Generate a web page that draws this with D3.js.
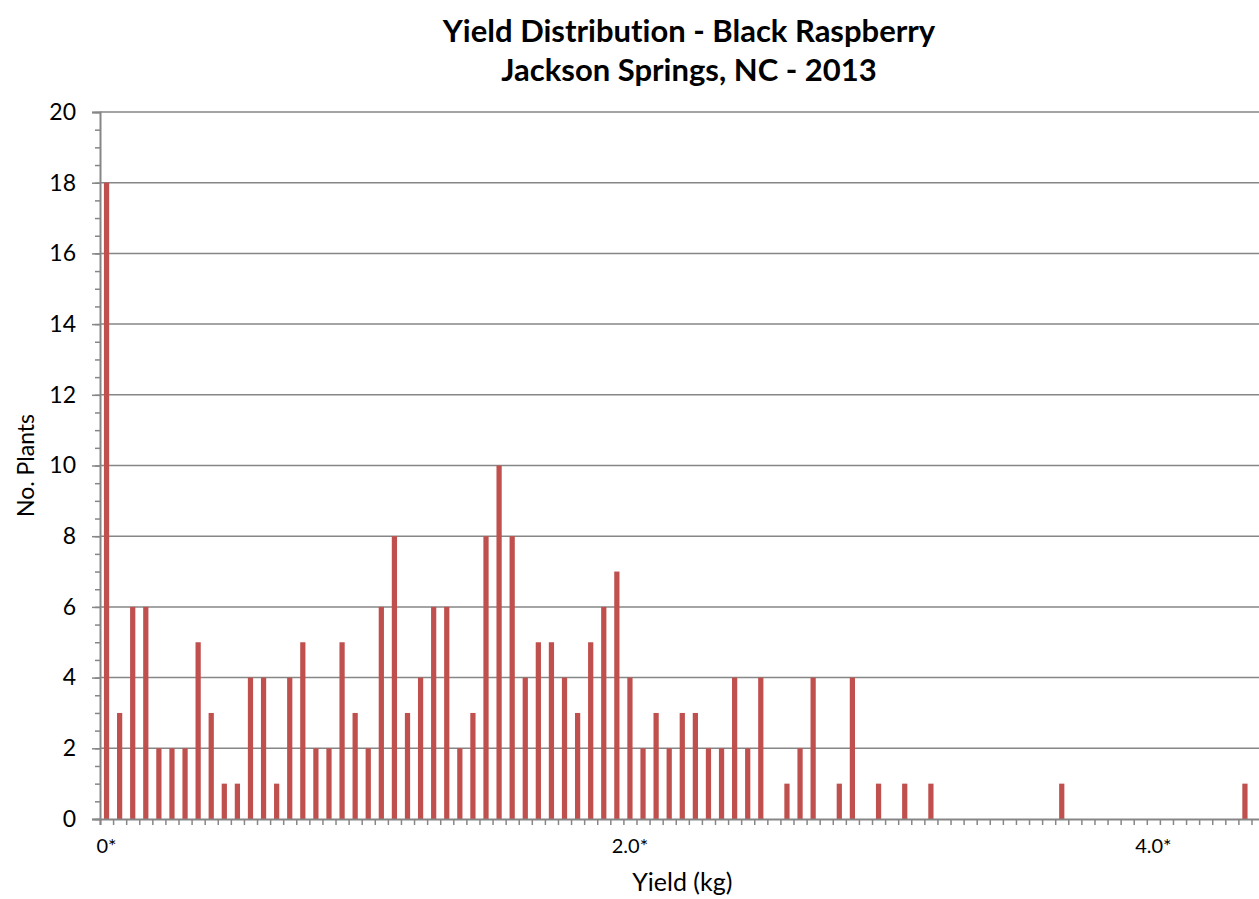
<!DOCTYPE html>
<html>
<head>
<meta charset="utf-8">
<script src="https://cdn.jsdelivr.net/npm/d3@7"></script>
<style>
  html, body { margin: 0; padding: 0; background: #ffffff; }
  svg { display: block; font-family: Lato, "Open Sans", sans-serif; font-variant-ligatures: none; }
</style>
</head>
<body>
<svg id="chart" width="1259" height="899"></svg>
<script>
// Yield bins (kg, lower edge of each 0.05 kg bin)
const yieldBins = [
  0.00, 0.05, 0.10, 0.15, 0.20, 0.25, 0.30, 0.35, 0.40, 0.45,
  0.50, 0.55, 0.60, 0.65, 0.70, 0.75, 0.80, 0.85, 0.90, 0.95,
  1.00, 1.05, 1.10, 1.15, 1.20, 1.25, 1.30, 1.35, 1.40, 1.45,
  1.50, 1.55, 1.60, 1.65, 1.70, 1.75, 1.80, 1.85, 1.90, 1.95,
  2.00, 2.05, 2.10, 2.15, 2.20, 2.25, 2.30, 2.35, 2.40, 2.45,
  2.50, 2.55, 2.60, 2.65, 2.70, 2.75, 2.80, 2.85, 2.90, 2.95,
  3.00, 3.05, 3.10, 3.15, 3.20, 3.25, 3.30, 3.35, 3.40, 3.45,
  3.50, 3.55, 3.60, 3.65, 3.70, 3.75, 3.80, 3.85, 3.90, 3.95,
  4.00, 4.05, 4.10, 4.15, 4.20, 4.25, 4.30, 4.35, 4.40
];

// Number of plants in each bin
const plantCounts = [
  18, 3, 6, 6, 2, 2, 2, 5, 3, 1,
   1, 4, 4, 1, 4, 5, 2, 2, 5, 3,
   2, 6, 8, 3, 4, 6, 6, 2, 3, 8,
  10, 8, 4, 5, 5, 4, 3, 5, 6, 7,
   4, 2, 3, 2, 3, 3, 2, 2, 4, 2,
   4, 0, 1, 2, 4, 0, 1, 4, 0, 1,
   0, 1, 0, 1, 0, 0, 0, 0, 0, 0,
   0, 0, 0, 1, 0, 0, 0, 0, 0, 0,
   0, 0, 0, 0, 0, 0, 0, 1, 0
];

// Labelled bins on the category axis
const tickBins = [0.00, 2.00, 4.00];
const tickTexts = ["0*", "2.0*", "4.0*"];

// Value axis
const yMax = 20;
const yMajorTicks = [0, 2, 4, 6, 8, 10, 12, 14, 16, 18, 20];

const titleLines = ["Yield Distribution - Black Raspberry", "Jackson Springs, NC - 2013"];
const xTitle = "Yield (kg)";
const yTitle = "No. Plants";

const svg = d3.select("#chart");
const margin = { left: 100, top: 112 };
const plotH = 707;
const slot = 13.085;
const plotW = slot * yieldBins.length;

const gridColor = "#868686";
const barColor = "#C0504D";

const g = svg.append("g").attr("transform", `translate(${margin.left},${margin.top})`);

const x = d3.scaleBand()
  .domain(yieldBins)
  .range([0, plotW])
  .paddingInner(0.6)
  .paddingOuter(0.3);

// Linear scale over bin boundaries for the category tick marks
const xEdge = d3.scaleLinear().domain([0, yieldBins.length]).range([0, plotW]);

const y = d3.scaleLinear().domain([0, yMax]).range([plotH, 0]);

// Horizontal gridlines
g.append("g")
  .selectAll("line")
  .data(yMajorTicks.filter(v => v > 0))
  .join("line")
  .attr("x1", 0)
  .attr("x2", plotW)
  .attr("y1", d => y(d))
  .attr("y2", d => y(d))
  .attr("stroke", gridColor)
  .attr("stroke-width", 1.5);

// Bars
g.append("g")
  .selectAll("rect")
  .data(yieldBins.map((b, i) => ({ bin: b, count: plantCounts[i] })))
  .join("rect")
  .attr("x", d => x(d.bin))
  .attr("width", x.bandwidth())
  .attr("y", d => y(d.count))
  .attr("height", d => plotH - y(d.count))
  .attr("fill", barColor);

// Minor ticks on the value axis
const yMinor = d3.axisLeft(y)
  .ticks(50)
  .tickSize(5)
  .tickFormat("");
g.append("g").call(yMinor)
  .call(a => a.select(".domain").remove())
  .call(a => a.selectAll("line").attr("stroke", gridColor).attr("stroke-width", 1.5));

// Major ticks and labels on the value axis
const yAxis = d3.axisLeft(y)
  .tickValues(yMajorTicks)
  .tickSize(8)
  .tickPadding(16);
g.append("g").call(yAxis)
  .call(a => a.select(".domain").attr("stroke", gridColor).attr("stroke-width", 2))
  .call(a => a.selectAll("line").attr("stroke", gridColor).attr("stroke-width", 1.5))
  .call(a => a.selectAll("text")
    .attr("fill", "#000")
    .style("font-size", "23px")
    .style("font-family", "Lato, 'Open Sans', sans-serif"));

// Category axis: tick marks at bin boundaries
const xAxis = d3.axisBottom(xEdge)
  .tickValues(d3.range(0, yieldBins.length + 1))
  .tickSize(6)
  .tickFormat("");
g.append("g")
  .attr("transform", `translate(0,${plotH})`)
  .call(xAxis)
  .call(a => a.select(".domain").attr("stroke", gridColor).attr("stroke-width", 2))
  .call(a => a.selectAll("line").attr("stroke", gridColor).attr("stroke-width", 1.5));

// Category labels
g.append("g")
  .selectAll("text")
  .data(tickBins.map((b, i) => ({ bin: b, text: tickTexts[i] })))
  .join("text")
  .attr("x", d => x(d.bin) + x.bandwidth() / 2)
  .attr("y", plotH + 34)
  .attr("text-anchor", "middle")
  .style("font-size", "20px")
  .attr("fill", "#000")
  .text(d => d.text);

// Axis titles
g.append("text")
  .attr("x", plotW / 2)
  .attr("y", plotH + 72)
  .attr("text-anchor", "middle")
  .style("font-size", "25px")
  .attr("fill", "#000")
  .text(xTitle);

svg.append("text")
  .attr("transform", `translate(34,${margin.top + plotH / 2}) rotate(-90)`)
  .attr("text-anchor", "middle")
  .style("font-size", "23px")
  .attr("fill", "#000")
  .text(yTitle);

// Title
svg.append("g")
  .selectAll("text")
  .data(titleLines)
  .join("text")
  .attr("x", 689)
  .attr("y", (d, i) => 42 + i * 39)
  .attr("text-anchor", "middle")
  .style("font-size", "31px")
  .style("font-weight", "bold")
  .attr("fill", "#000")
  .text(d => d);
</script>
</body>
</html>
